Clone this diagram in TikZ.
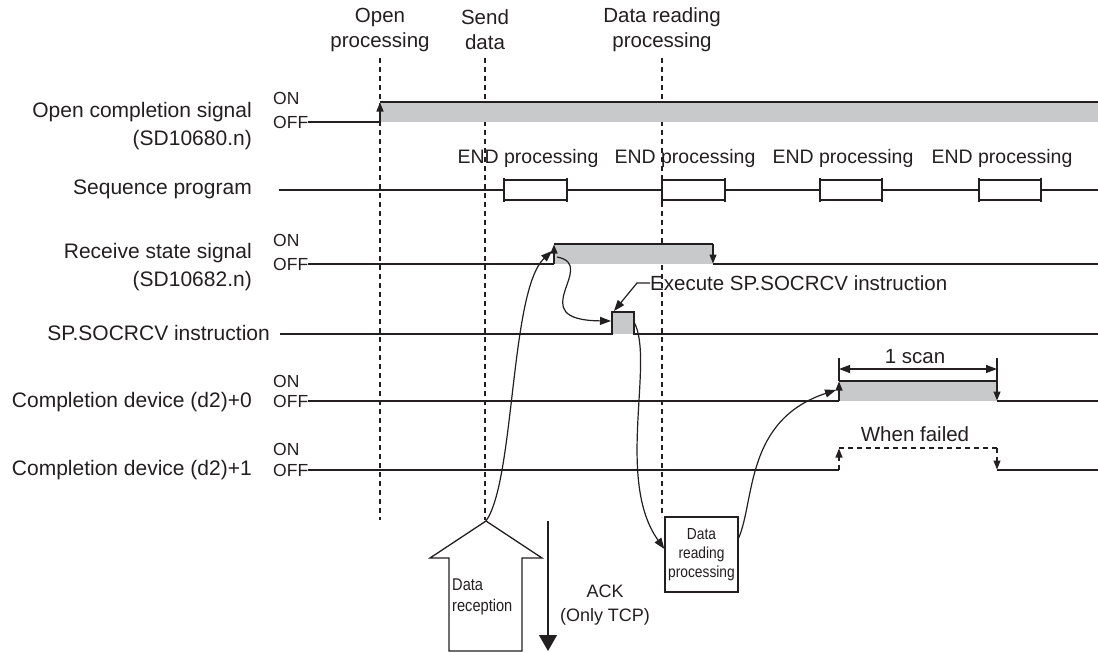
\documentclass[tikz,border=0pt]{standalone}
\usepackage{fontspec}
\setmainfont{Liberation Sans}
\newfontfamily\narrowfont{Liberation Sans}[FakeStretch=0.86]
\usetikzlibrary{arrows.meta}
\definecolor{ink}{HTML}{231F20}
\definecolor{gfill}{HTML}{C8C9CA}
\begin{document}
\begin{tikzpicture}[x=1pt,y=-1pt,
  sig/.style={draw=ink, line width=1.3pt},
  tip/.style={-{Triangle[length=9pt,width=7pt]}},
  dsh/.style={draw=ink, line width=1.1pt, dash pattern=on 5pt off 4pt},
  lbl/.style={font=\fontsize{21}{28}\selectfont, text=ink, align=right, anchor=east, inner sep=0pt},
  onoff/.style={font=\fontsize{17.5}{20}\selectfont, text=ink, anchor=west, inner sep=0pt},
  toplbl/.style={font=\fontsize{20.5}{25}\selectfont, text=ink, align=center, inner sep=0pt},
  endlbl/.style={font=\fontsize{19.5}{22}\selectfont, text=ink, inner sep=0pt},
  note/.style={font=\fontsize{20.5}{24}\selectfont, text=ink, inner sep=0pt},
  curve/.style={draw=ink, line width=1.2pt, -{Triangle[length=11pt,width=8pt]}},
  endbox/.style={draw=ink, line width=1.3pt, fill=white},
]
\useasboundingbox (0,0) rectangle (1098,653);

% ---------- top labels and dashed markers ----------
\node[toplbl] (topen) at (380,30) {Open\\processing};
\node[toplbl] (tsend) at (485,30) {Send\\data};
\node[toplbl] (tread) at (662,30) {Data reading\\processing};
\draw[dsh] (380,58) -- (380,520);
\draw[dsh] (485,58) -- (485,520);
\draw[dsh] (662,58) -- (662,517);

% ---------- left labels ----------
\node[lbl] (l1) at (252,126) {Open completion signal\\(SD10680.n)};
\node[lbl] (l2) at (252,189) {Sequence program};
\node[lbl] (l3) at (252,267) {Receive state signal\\(SD10682.n)};
\node[lbl] (l4) at (270,333) {SP.SOCRCV instruction};
\node[lbl] (l5) at (252,402) {Completion device (d2)+0};
\node[lbl] (l6) at (252,470) {Completion device (d2)+1};

\node[onoff] (on1) at (273,98) {ON};
\node[onoff] (off1) at (273,122) {OFF};
\node[onoff] (on3) at (273,240) {ON};
\node[onoff] (off3) at (273,264) {OFF};
\node[onoff] (on5) at (273,381) {ON};
\node[onoff] (off5) at (273,401) {OFF};
\node[onoff] (on6) at (273,449) {ON};
\node[onoff] (off6) at (273,470) {OFF};

% ---------- Open completion signal ----------
\fill[gfill] (380,102) rectangle (1098,122);
\draw[sig] (308,122) -- (380,122);
\draw[sig,tip] (380,122) -- (380,102.5);
\draw[sig] (380,102) -- (1098,102);

% ---------- Sequence program ----------
\draw[sig] (279,190) -- (1098,190);
\foreach \a/\b/\c in {504/567/528, 662/725/685, 820/882/843, 979/1041/1002}{
  \draw[endbox] (\a,180) rectangle (\b,200);
  \draw[sig] (\a,178) -- (\a,202);
  \draw[sig] (\b,178) -- (\b,202);
  \node[endlbl] at (\c,158) {END processing};
}

% ---------- Receive state signal ----------
\fill[gfill] (554,244) rectangle (713,264);
\draw[sig] (308,264) -- (554,264);
\draw[sig,tip] (554,264) -- (554,244.5);
\draw[sig] (554,244) -- (713,244);
\draw[sig,tip] (713,244) -- (713,263.5);
\draw[sig] (713,264) -- (1098,264);
\coordinate (rsup) at (552,251);
\coordinate (rsfrom) at (557,257);

% ---------- SP.SOCRCV instruction ----------
\fill[gfill] (612,312) rectangle (634,334);
\draw[sig] (280,334) -- (612,334) -- (612,312) -- (634,312) -- (634,334) -- (1098,334);
\coordinate (spin) at (611,321);
\coordinate (spout) at (634,322);
\coordinate (sptop) at (614,311);
\node[note, anchor=west] (exec) at (650,283) {Execute SP.SOCRCV instruction};
\draw[curve] (exec.west) -- ++(-13,0) -- (sptop);

% ---------- Completion device (d2)+0 ----------
\fill[gfill] (839,381) rectangle (997,401);
\draw[sig] (308,401) -- (839,401);
\draw[sig,tip] (839,401) -- (839,381.5);
\draw[sig] (839,381) -- (997,381);
\draw[sig,tip] (997,381) -- (997,400.5);
\draw[sig] (997,401) -- (1098,401);
\coordinate (cd0) at (836,390);
\draw[sig] (839,358) -- (839,381);
\draw[sig] (997,358) -- (997,381);
\draw[draw=ink, line width=1.2pt, {Triangle[length=11pt,width=8pt]}-{Triangle[length=11pt,width=8pt]}] (839,369) -- (997,369);
\node[note] (scan) at (915,357) {1 scan};

% ---------- Completion device (d2)+1 ----------
\draw[sig] (308,470) -- (839,470);
\draw[dsh,tip] (839,470) -- (839,448.5);
\draw[dsh] (839,448) -- (997,448);
\draw[dsh,tip] (997,448) -- (997,469.5);
\draw[sig] (997,470) -- (1098,470);
\node[note] (fail) at (915,434) {When failed};

% ---------- Data reception arrow ----------
\draw[draw=ink, line width=1.3pt, fill=white] (486,521) -- (542,558) -- (522,558) -- (522,651) -- (449,651) -- (449,558) -- (430,558) -- cycle;
\coordinate (drtip) at (486,521);
\node[font=\narrowfont\fontsize{17}{21}\selectfont, text=ink, align=left, anchor=west, inner sep=0pt] (drx) at (452,597) {Data\\reception};

% ---------- ACK ----------
\coordinate (acktop) at (548,521);
\coordinate (ackbot) at (548,651);
\draw[draw=ink, line width=1.3pt, -{Triangle[length=16pt,width=18pt]}] (acktop) -- (ackbot);
\node[font=\fontsize{18}{24}\selectfont, text=ink, align=center, inner sep=0pt] (ack) at (605,605) {ACK\\(Only TCP)};

% ---------- Data reading processing box ----------
\node[draw=ink, line width=1.3pt, fill=white, minimum width=73pt, minimum height=75pt, inner sep=0pt,
      font=\narrowfont\fontsize{16}{19}\selectfont, text=ink, align=center] (drp) at (701.5,554.5) {Data\\reading\\processing};

% ---------- curved arrows ----------
\draw[curve] (drtip) .. controls (515,480) and (510,290) .. (rsup);
\draw[curve] (rsfrom) .. controls (600,265) and (520,320) .. (spin);
\draw[curve] (spout) .. controls (655,360) and (615,480) .. (drp.west |- 0,549);
\draw[curve] (drp.east |- 0,538) .. controls (755,500) and (745,420) .. (cd0);
\end{tikzpicture}
\end{document}
